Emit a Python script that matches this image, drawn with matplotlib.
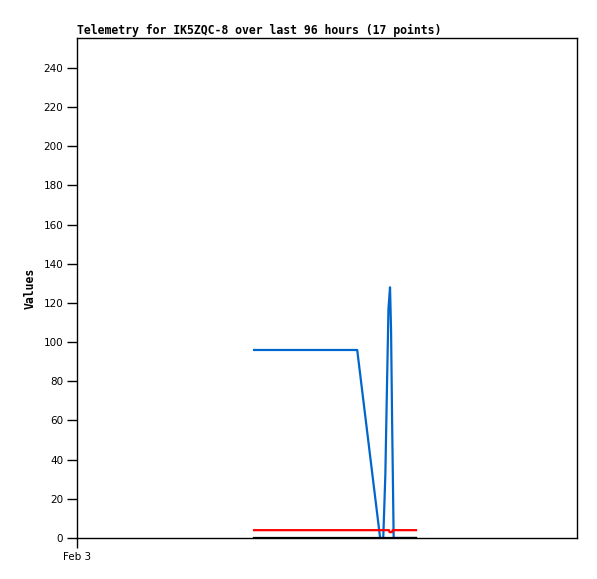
import matplotlib
matplotlib.use("Agg")
import matplotlib.pyplot as plt

# hours since Feb 3 00:00
blue_t = [34.0, 53.8, 58.2, 58.8, 59.2, 59.5, 59.8, 60.1, 60.3, 60.5, 60.8, 65.1]
blue_v = [96, 96, 0, 0, 32, 75, 117, 128, 106, 60, 0, 0]
red_t = [34.0, 59.9, 60.0, 60.5, 60.6, 65.1]
red_v = [4, 4, 3, 3, 4, 4]
black_t = [34.0, 65.1]
black_v = [0, 0]
xtick_pos = [0]
xtick_labels = ["Feb 3"]
yticks = list(range(0, 241, 20))

fig = plt.figure(figsize=(5.97, 5.79), dpi=100)
ax = fig.add_axes([77/597, 1-538/579, 500/597, 500/579])
ax.plot(blue_t, blue_v, color="#0066cc", lw=1.6)
ax.plot(red_t, red_v, color="#ff0000", lw=1.6)
ax.plot(black_t, black_v, color="#000000", lw=1.6)
ax.set_xlim(0, 96)
ax.set_ylim(0, 255.3)
ax.set_yticks(yticks)
ax.set_xticks(xtick_pos)
ax.set_xticklabels(xtick_labels)
ax.tick_params(direction="out", length=7, width=1, labelsize=7.5, pad=3)
for s in ax.spines.values():
    s.set_linewidth(1)
ax.set_title("Telemetry for IK5ZQC-8 over last 96 hours (17 points)",
             loc="left", fontsize=8.3, fontweight="bold", family="DejaVu Sans Mono", pad=3)
ax.set_ylabel("Values", fontsize=8.3, fontweight="bold", family="DejaVu Sans Mono", labelpad=5)
fig.savefig("out.png", dpi=100)
